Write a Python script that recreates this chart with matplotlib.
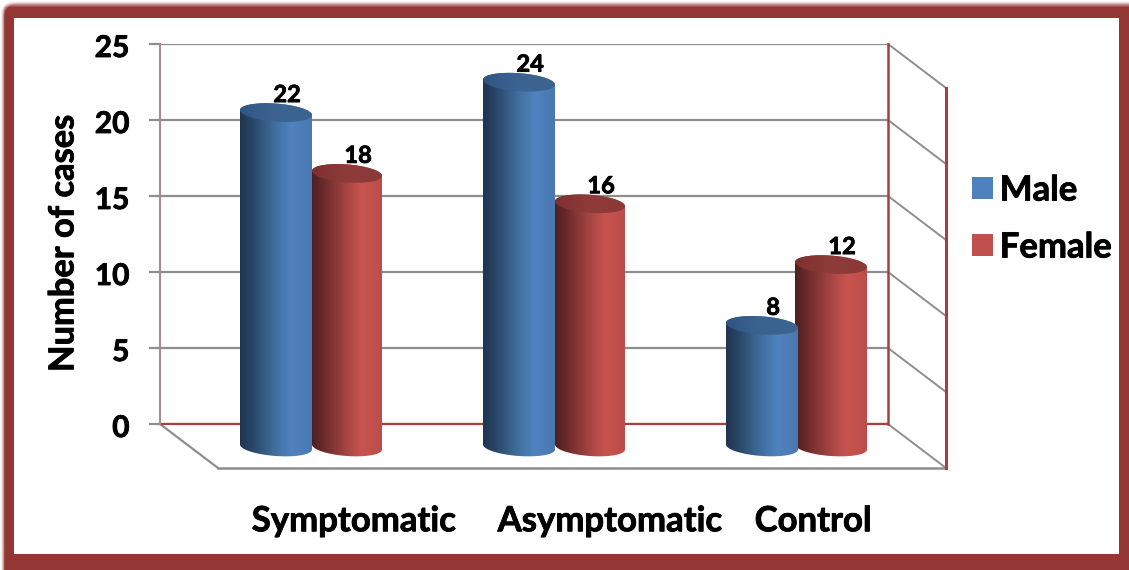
import numpy as np
import matplotlib
matplotlib.use("Agg")
import matplotlib.pyplot as plt
import matplotlib.patheffects as pe
from matplotlib.colors import LinearSegmentedColormap
from matplotlib.patches import Patch, PathPatch
from matplotlib.path import Path
from matplotlib.transforms import ScaledTranslation

categories = ["Symptomatic", "Asymptomatic", "Control"]
male = [22, 24, 8]
female = [18, 16, 12]
series_names = ["Male", "Female"]
y_ticks = [0, 5, 10, 15, 20, 25]

W, H = 1129, 570
DPI = 100
FRAME = "#943634"
GRID = "#8e8e8e"
WALL = "#a5403e"
FONT = "Lato"
HEAVY = [pe.withStroke(linewidth=0.6, foreground="black")]

# Plot box in pixels: back wall corners and the 3-D depth of the floor
LEFT, RIGHT, TOP, BOTTOM = 160, 888, 44, 424
DEPTH_X, DEPTH_Y = 58, 44
UNIT_X = (RIGHT - LEFT) / 3
UNIT_Y = (BOTTOM - TOP) / 25

fig = plt.figure(figsize=(W / DPI, H / DPI), dpi=DPI, facecolor="white")

# Slide frame: solid red band whose outer top and left edges fade out softly
bg = fig.add_axes([0, 0, 1, 1], zorder=0)
yy, xx = np.mgrid[0:H, 0:W]
fade = np.clip(np.minimum((yy - 0.0) / 7.0, (xx + 0.0) / 4.5), 0, 1)
corner = np.hypot(np.clip(16 - xx, 0, None), np.clip(16 - yy, 0, None))
fade = fade * np.clip((17 - corner) / 5, 0, 1)
inside = (xx >= 14) & (xx < 1119) & (yy >= 18) & (yy < 554)
alpha = np.where(inside, 0, fade)[..., None]
rgb = np.array(matplotlib.colors.to_rgb(FRAME))
bg.imshow(alpha * rgb + (1 - alpha), extent=(0, W, H, 0), aspect="auto",
          interpolation="bilinear")
bg.axis("off")

ax = fig.add_axes([LEFT / W, 1 - BOTTOM / H, (RIGHT - LEFT) / W, (BOTTOM - TOP) / H],
                  zorder=1)
ax.patch.set_alpha(0)
ax.set_xlim(0, 3)
ax.set_ylim(0, 25)
dx = DEPTH_X / UNIT_X
dy = DEPTH_Y / UNIT_Y

# Axis styling
for name in ("top", "right", "bottom"):
    ax.spines[name].set_visible(False)
ax.spines["left"].set_color("#b08a8a")
ax.spines["left"].set_linewidth(1.5)
ax.set_yticks(y_ticks)
ax.tick_params(axis="y", length=8, width=1.6, color=GRID, pad=14)
ax.set_yticklabels([str(v) for v in y_ticks], fontsize=21.5, fontweight="bold",
                   fontname=FONT, color="black", path_effects=HEAVY)
nudge = ScaledTranslation(0, -1.5 / DPI, fig.dpi_scale_trans)
for tick_label in ax.get_yticklabels():
    tick_label.set_transform(tick_label.get_transform() + nudge)
ax.yaxis.grid(True, color=GRID, linewidth=1.6, zorder=1)
ax.set_axisbelow(True)
ax.set_ylabel("Number of cases", fontsize=24.8, fontweight="bold", fontname=FONT,
              labelpad=11, y=0.476, path_effects=HEAVY)

label_x = [(354 - LEFT) / UNIT_X, (610 - LEFT) / UNIT_X, (813 - LEFT) / UNIT_X]
ax.set_xticks(label_x)
ax.set_xticklabels(categories, fontsize=25, fontweight="bold", fontname=FONT,
                   path_effects=HEAVY)
ax.tick_params(axis="x", length=0, pad=58.5)

# Wireframe of the floor and the right wall
line = dict(clip_on=False, solid_capstyle="projecting", zorder=2)
ax.plot([0, dx], [0, -dy], color=GRID, lw=1.6, **line)
ax.plot([dx, 3 + dx], [-dy, -dy], color=GRID, lw=1.8, **line)
for v in y_ticks:
    ax.plot([3, 3 + dx], [v, v - dy], color=GRID, lw=1.4, **line)
ax.plot([0, 3], [0, 0], color=WALL, lw=1.6, **line)
ax.plot([3, 3], [0, 25], color=WALL, lw=1.8, **line)
ax.plot([3 + dx, 3 + dx], [-dy, 25 - dy], color=WALL, lw=2.2, **line)

blue_side = LinearSegmentedColormap.from_list(
    "blue_side", [(0, "#1f3450"), (0.18, "#2a4768"), (0.5, "#41709f"),
                  (0.72, "#5082c0"), (1, "#4a78b0")])
red_side = LinearSegmentedColormap.from_list(
    "red_side", [(0, "#4d2020"), (0.18, "#6c2c2b"), (0.5, "#a64543"),
                 (0.72, "#c9544f"), (1, "#bb4d4a")])
blue_top = LinearSegmentedColormap.from_list(
    "blue_top", [(0, "#2f5585"), (0.5, "#3c6491"), (1, "#3b638f")])
red_top = LinearSegmentedColormap.from_list(
    "red_top", [(0, "#7d302f"), (0.5, "#8f3b39"), (1, "#8a3937")])

BASE_Y = 447
RY = 9.0        # vertical radius of the cylinder caps, pixels
TILT = 2.5      # caps dip slightly to the right, pixels
base = (BOTTOM - BASE_Y) / UNIT_Y


def ring(cx, cy, a, t):
    """Points on a cap outline at angles t, in data coordinates."""
    x = cx + a * np.cos(t) / UNIT_X
    y = cy + (-TILT * np.cos(t) + RY * np.sin(t)) / UNIT_Y
    return np.column_stack([x, y])


def gradient(path, cmap, x0, x1, y0, y1):
    clip = PathPatch(path, transform=ax.transData, fc="none", ec="none")
    ax.add_patch(clip)
    clip.set_clip_on(False)
    im = ax.imshow(np.linspace(0, 1, 256)[None, :], cmap=cmap, vmin=0, vmax=1,
                   extent=(x0, x1, y0, y1), aspect="auto", origin="lower",
                   zorder=3, interpolation="bilinear")
    im.set_clip_box(fig.bbox)
    im.set_clip_path(clip)


def cylinder(cx, half_width, value, side, top):
    a = half_width
    x0, x1 = cx - a / UNIT_X, cx + a / UNIT_X
    y_top = base + value
    lower = ring(cx, base, a, np.linspace(np.pi, 2 * np.pi, 60))
    upper = ring(cx, y_top, a, np.linspace(0, np.pi, 60))
    body = Path(np.vstack([lower, upper, lower[:1]]))
    gradient(body, side, x0, x1, base - 2, y_top + 2)
    cap = Path(ring(cx, y_top, a, np.linspace(0, 2 * np.pi, 120)))
    gradient(cap, top, x0, x1, y_top - 2, y_top + 2)


male_x = [(c - LEFT) / UNIT_X for c in (276, 519, 762)]
female_x = [(c - LEFT) / UNIT_X for c in (347, 590, 831)]
female_half = [35, 35, 36]

for i in range(len(categories)):
    cylinder(female_x[i], female_half[i], female[i], red_side, red_top)
    cylinder(male_x[i], 36, male[i], blue_side, blue_top)

ax.set_xlim(0, 3)
ax.set_ylim(0, 25)

# Value labels sit just above the caps, nudged to the right
for xs, values in ((male_x, male), (female_x, female)):
    for x, v in zip(xs, values):
        ax.annotate(str(v), (x, base + v), xytext=(8, 13), textcoords="offset points",
                    ha="center", va="center", fontsize=17, fontweight="bold",
                    fontname=FONT, annotation_clip=False, zorder=4,
                    path_effects=HEAVY)

handles = [Patch(facecolor="#4f81bd", label=series_names[0]),
           Patch(facecolor="#c0504d", label=series_names[1])]
legend = fig.legend(handles=handles, loc="center left",
                    bbox_to_anchor=(965 / W, 1 - 219 / H), frameon=False,
                    prop={"family": FONT, "weight": "bold", "size": 25},
                    handlelength=0.6, handleheight=0.6, handletextpad=0.2,
                    labelspacing=0.72, borderpad=0.2, borderaxespad=0)
for text in legend.get_texts():
    text.set_path_effects(HEAVY)

fig.savefig("out.png", dpi=DPI)
